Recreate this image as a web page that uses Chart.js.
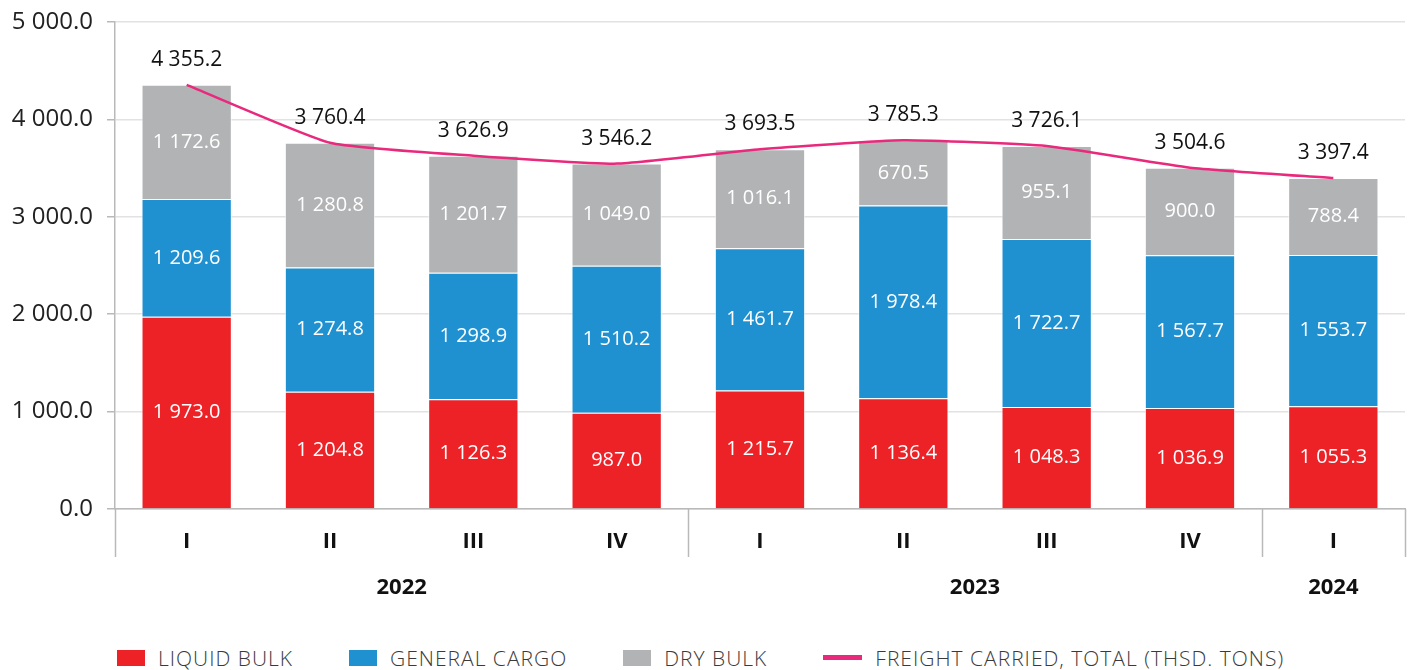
<!DOCTYPE html>
<html lang="en">
<head>
  <meta charset="UTF-8">
  <title>Freight carried by quarter</title>
  <script src="https://cdn.jsdelivr.net/npm/chart.js"></script>
  <style>
    html, body { margin: 0; padding: 0; background: #fff; }
    body { width: 1410px; height: 670px; overflow: hidden; font-family: "Open Sans", sans-serif; }
    .wrap { position: relative; width: 1410px; height: 635px; }
    .legend { display: flex; align-items: center; padding-left: 117px; padding-top: 10px; height: 25px; }
    .legend .item { display: flex; align-items: center; margin-right: 56px; font-size: 21px; color: #3a3a3a; font-weight: 300; letter-spacing: 1px; }
    .legend .box { width: 28px; height: 16px; margin-right: 13px; }
    .legend .line { width: 39px; height: 5px; margin-right: 13px; }
  </style>
</head>
<body>
  <div class="wrap"><canvas id="freightChart"></canvas></div>
  <div class="legend" id="legend"></div>

  <script>
    // quarters and years
    const quarters = ['I', 'II', 'III', 'IV', 'I', 'II', 'III', 'IV', 'I'];
    const years = ['2022', '2023', '2024'];
    const yearSizes = [4, 4, 1];

    // thsd. tons
    const liquidBulk = [1973.0, 1204.8, 1126.3, 987.0, 1215.7, 1136.4, 1048.3, 1036.9, 1055.3];
    const generalCargo = [1209.6, 1274.8, 1298.9, 1510.2, 1461.7, 1978.4, 1722.7, 1567.7, 1553.7];
    const dryBulk = [1172.6, 1280.8, 1201.7, 1049.0, 1016.1, 670.5, 955.1, 900.0, 788.4];
    const totals = [4355.2, 3760.4, 3626.9, 3546.2, 3693.5, 3785.3, 3726.1, 3504.6, 3397.4];

    const yTicks = [0, 1000, 2000, 3000, 4000, 5000];

    const RED = '#ED2227', BLUE = '#1F91D1', GRAY = '#B2B3B5', PINK = '#E8297C';
    const FONT = '"Open Sans", sans-serif';
    Chart.defaults.font.family = FONT;

    function fmt(v) {
      const parts = v.toFixed(1).split('.');
      return parts[0].replace(/\B(?=(\d{3})+(?!\d))/g, ' ') + '.' + parts[1];
    }

    // value labels, separators and year row
    const extrasPlugin = {
      id: 'extras',
      afterDatasetsDraw(chart) {
        const c = chart.ctx;
        c.save();
        c.textAlign = 'center';
        c.textBaseline = 'middle';
        c.font = '20px ' + FONT;
        c.fillStyle = '#fff';
        [0, 1, 2].forEach(di => {
          chart.getDatasetMeta(di).data.forEach((bar, i) => {
            const v = chart.data.datasets[di].data[i];
            c.fillText(fmt(v), bar.x, (bar.y + bar.base) / 2);
          });
        });
        c.fillStyle = '#111';
        c.font = '21px ' + FONT;
        chart.getDatasetMeta(3).data.forEach((pt, i) => {
          c.fillText(fmt(totals[i]), pt.x, pt.y - 25);
        });
        c.restore();
      },
      afterDraw(chart) {
        const c = chart.ctx;
        const x = chart.scales.x;
        const area = chart.chartArea;
        const bottom = area.bottom + 48;
        c.save();
        c.strokeStyle = '#b9b9b9';
        c.lineWidth = 1.5;
        const edges = [area.left];
        let idx = 0;
        yearSizes.forEach(n => {
          idx += n;
          const edge = idx < quarters.length
            ? (x.getPixelForValue(idx - 1) + x.getPixelForValue(idx)) / 2
            : area.right;
          edges.push(edge);
        });
        edges.forEach(e => {
          c.beginPath();
          c.moveTo(Math.round(e) + 0.5, area.bottom);
          c.lineTo(Math.round(e) + 0.5, bottom);
          c.stroke();
        });
        c.fillStyle = '#111';
        c.font = 'bold 22px ' + FONT;
        c.textAlign = 'center';
        c.textBaseline = 'middle';
        years.forEach((y, i) => {
          c.fillText(y, (edges[i] + edges[i + 1]) / 2, area.bottom + 79);
        });
        c.restore();
      }
    };

    const ctx = document.getElementById('freightChart').getContext('2d');
    const barStyle = { borderColor: 'rgba(255,255,255,0.7)', borderWidth: 1, stack: 'cargo', order: 1, barPercentage: 0.63, categoryPercentage: 1 };
    const chart = new Chart(ctx, {
      type: 'bar',
      data: {
        labels: quarters,
        datasets: [
          { label: 'LIQUID BULK', data: liquidBulk, backgroundColor: RED, ...barStyle },
          { label: 'GENERAL CARGO', data: generalCargo, backgroundColor: BLUE, ...barStyle },
          { label: 'DRY BULK', data: dryBulk, backgroundColor: GRAY, ...barStyle },
          { type: 'line', label: 'FREIGHT CARRIED, TOTAL (THSD. TONS)', data: totals, borderColor: PINK, borderWidth: 2.5, pointRadius: 0, tension: 0.15, fill: false, stack: 'total', order: 0 }
        ]
      },
      options: {
        responsive: true,
        maintainAspectRatio: false,
        animation: false,
        layout: { padding: { top: 22, right: 5, left: 0, bottom: 0 } },
        plugins: { legend: { display: false }, tooltip: { enabled: false } },
        scales: {
          x: {
            stacked: true,
            grid: { display: false },
            border: { display: true, color: '#b9b9b9', width: 1.5 },
            ticks: { color: '#111', font: { size: 22, weight: 'bold' }, padding: 12, maxRotation: 0 },
            afterFit(scale) { scale.height = 126; }
          },
          y: {
            stacked: true,
            min: 0,
            max: 5000,
            afterBuildTicks(scale) { scale.ticks = yTicks.map(v => ({ value: v })); },
            grid: { color: '#e2e2e2', tickColor: '#b9b9b9', tickLength: 8, lineWidth: 1.5 },
            border: { display: true, color: '#b9b9b9', width: 1.5 },
            ticks: { color: '#222', font: { size: 24 }, padding: 14, callback: v => fmt(v) },
            afterFit(scale) { scale.width = 115; scale.paddingTop = 0; scale.paddingBottom = 0; }
          }
        }
      },
      plugins: [extrasPlugin]
    });

    // html legend
    const legend = document.getElementById('legend');
    chart.data.datasets.forEach(ds => {
      const item = document.createElement('div');
      item.className = 'item';
      const sw = document.createElement('span');
      if (ds.type === 'line') {
        sw.className = 'line';
        sw.style.background = ds.borderColor;
      } else {
        sw.className = 'box';
        sw.style.background = ds.backgroundColor;
      }
      item.appendChild(sw);
      item.appendChild(document.createTextNode(ds.label));
      legend.appendChild(item);
    });
  </script>
</body>
</html>
